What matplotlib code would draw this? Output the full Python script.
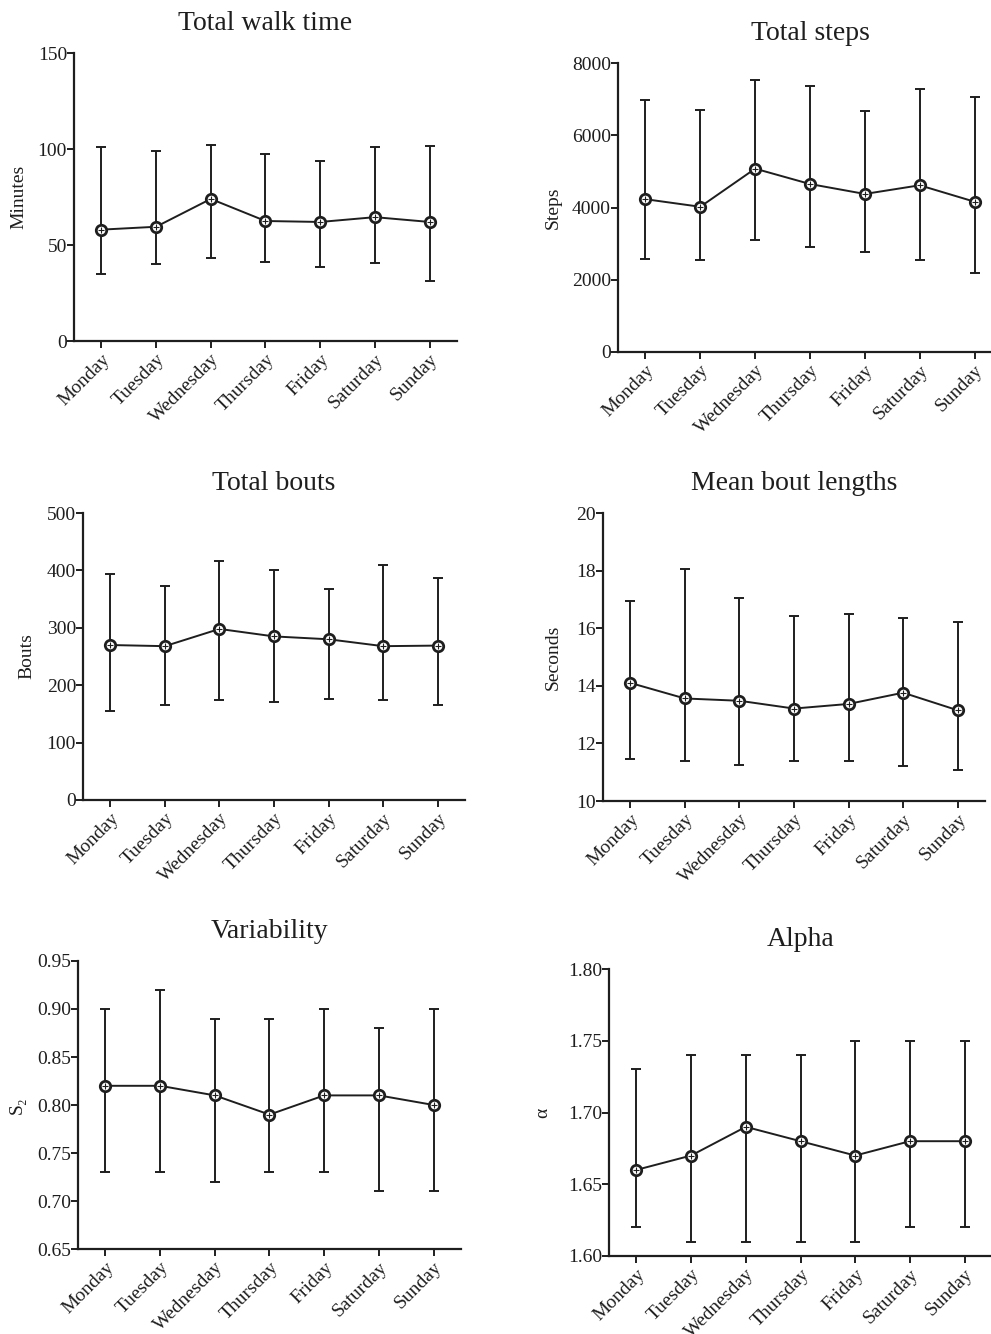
import numpy as np
import matplotlib
matplotlib.use("Agg")
import matplotlib.pyplot as plt

plt.rcParams['font.family'] = ['Liberation Serif', 'DejaVu Serif']

days = ["Monday", "Tuesday", "Wednesday", "Thursday", "Friday", "Saturday", "Sunday"]

# mean, upper and lower end of the error bar for each day
walk_mean = [58, 59.5, 74, 62.5, 62, 64.5, 62]
walk_hi = [101, 99, 102, 97.5, 93.5, 101, 101.5]
walk_lo = [35, 40, 43, 41, 38.5, 40.5, 31.5]

steps_mean = [4230, 4020, 5075, 4650, 4375, 4615, 4160]
steps_hi = [6980, 6700, 7520, 7355, 6680, 7290, 7070]
steps_lo = [2575, 2545, 3100, 2915, 2780, 2545, 2180]

bouts_mean = [270, 268, 298, 285, 280, 268, 269]
bouts_hi = [393, 373, 416, 401, 367, 410, 387]
bouts_lo = [155, 165, 175, 171, 176, 174, 165]

blen_mean = [14.10, 13.56, 13.48, 13.21, 13.37, 13.76, 13.15]
blen_hi = [16.94, 18.04, 17.06, 16.41, 16.48, 16.35, 16.20]
blen_lo = [11.45, 11.38, 11.26, 11.38, 11.38, 11.20, 11.08]

var_mean = [0.82, 0.82, 0.81, 0.79, 0.81, 0.81, 0.80]
var_hi = [0.90, 0.92, 0.89, 0.89, 0.90, 0.88, 0.90]
var_lo = [0.73, 0.73, 0.72, 0.73, 0.73, 0.71, 0.71]

alpha_mean = [1.66, 1.67, 1.69, 1.68, 1.67, 1.68, 1.68]
alpha_hi = [1.73, 1.74, 1.74, 1.74, 1.75, 1.75, 1.75]
alpha_lo = [1.62, 1.61, 1.61, 1.61, 1.61, 1.62, 1.62]

W, H = 991, 1334
fig = plt.figure(figsize=(W / 100, H / 100), dpi=100)
fig.patch.set_facecolor("white")

col = "#1e1e1e"

# panel: title, ylabel, data, yticks, tick format, box in pixels (left, right, top, bottom), ylabel right edge px
panels = [
    ("Total walk time", "Minutes", walk_mean, walk_hi, walk_lo, [0, 50, 100, 150], "{:.0f}", (74, 457, 53, 341), 27),
    ("Total steps", "Steps", steps_mean, steps_hi, steps_lo, [0, 2000, 4000, 6000, 8000], "{:.0f}", (618, 1002, 63, 352), 562),
    ("Total bouts", "Bouts", bouts_mean, bouts_hi, bouts_lo, [0, 100, 200, 300, 400, 500], "{:.0f}", (83, 465, 513, 800), 35),
    ("Mean bout lengths", "Seconds", blen_mean, blen_hi, blen_lo, [10, 12, 14, 16, 18, 20], "{:.0f}", (603, 985, 513, 801), 562),
    ("Variability", "S\u2082", var_mean, var_hi, var_lo, [0.65, 0.70, 0.75, 0.80, 0.85, 0.90, 0.95], "{:.2f}", (78, 461, 961, 1249), 26),
    ("Alpha", "\u03b1", alpha_mean, alpha_hi, alpha_lo, [1.60, 1.65, 1.70, 1.75, 1.80], "{:.2f}", (609, 992, 969, 1256), 551),
]

x = np.arange(len(days))

for title, ylab, m, hi, lo, yt, fmt, box, lab_x in panels:
    l, r, t, b = box
    ax = fig.add_axes([l / W, 1 - b / H, (r - l) / W, (b - t) / H])
    m = np.array(m)
    err = [m - np.array(lo), np.array(hi) - m]
    ax.errorbar(x, m, yerr=err, fmt="none", ecolor=col, elinewidth=1.4,
                capsize=3.8, capthick=1.4, zorder=2)
    ax.plot(x, m, color=col, lw=1.4, marker="o", ms=7.5, mfc="white",
            mec=col, mew=2.0, zorder=3)
    ax.plot(x, m, ls="none", marker="+", ms=4, mec=col, mew=0.8, zorder=4)

    ax.set_xlim(-0.5, 6.5)
    ax.set_ylim(yt[0], yt[-1])
    ax.set_yticks(yt)
    ax.set_yticklabels([fmt.format(v) for v in yt])
    ax.set_xticks(x)
    ax.set_xticklabels(days, rotation=45, ha="right", rotation_mode="anchor")

    for s in ["top", "right"]:
        ax.spines[s].set_visible(False)
    for s in ["left", "bottom"]:
        ax.spines[s].set_linewidth(1.6)
        ax.spines[s].set_color(col)
    ax.tick_params(axis="both", direction="out", length=5, width=1.4,
                   colors=col, labelsize=14, pad=2)
    ax.tick_params(axis="y", pad=0)
    ax.set_facecolor("none")

    ax.set_title(title, fontsize=20, color=col, y=1 + 30 / (b - t), va="center", pad=0)
    ax.set_ylabel(ylab, fontsize=14, color=col)
    ax.yaxis.set_label_coords((lab_x - l) / (r - l), 0.5)

fig.savefig("out.png", dpi=100, facecolor="white")
